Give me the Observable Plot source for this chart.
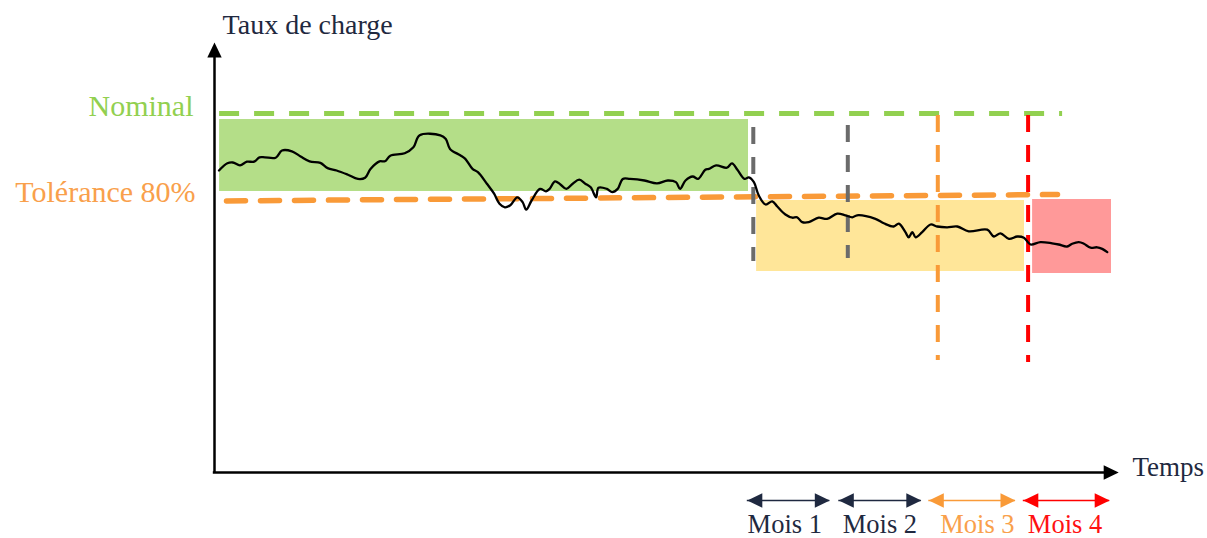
<!DOCTYPE html>
<html>
<head>
<meta charset="utf-8">
<script src="https://cdn.jsdelivr.net/npm/d3@7"></script>
<script src="https://cdn.jsdelivr.net/npm/@observablehq/plot@0.6"></script>
<style>
  html, body { margin: 0; padding: 0; background: #ffffff; }
  #chart svg { display: block; }
  #chart svg text { font-family: "Liberation Serif", "Times New Roman", serif; }
</style>
</head>
<body>
<div id="chart"></div>
<script>
// ---- Data (time in days, load rate in arbitrary % units) ----
const loadSeries = [
  [1.5,75.5],[4.3,77.3],[6.1,77.5],[8.5,76.8],[10.8,77.7],[13.2,77.7],[15.0,78.8],[16.8,78.8],
  [20.4,78.7],[22.5,80.5],[25.8,80.3],[28.7,79.0],[31.7,77.8],[35.3,77.4],[37.7,76.1],[40.7,75.5],
  [44.3,74.5],[47.8,73.4],[50.2,73.7],[52.0,75.9],[55.0,77.8],[56.8,77.8],[58.6,79.2],[63.4,79.8],
  [66.3,81.3],[68.4,84.3],[75.3,84.3],[77.1,83.4],[78.5,80.9],[81.9,79.3],[83.6,78.4],[86.0,75.9],
  [87.8,75.1],[90.8,72.2],[93.2,69.7],[95.0,67.2],[96.8,66.3],[98.6,66.8],[100.9,68.8],[102.7,67.6],
  [103.9,65.7],[105.7,68.0],[108.5,70.9],[110.5,70.3],[111.7,70.9],[113.5,72.8],[115.3,72.0],[117.3,70.9],
  [119.4,72.2],[121.6,73.2],[123.6,72.2],[125.4,71.3],[127.2,68.8],[128.0,71.2],[130.8,70.9],[132.6,70.1],
  [134.4,70.9],[136.1,73.4],[138.5,73.4],[143.3,73.0],[147.5,72.3],[151.1,73.0],[153.8,72.6],[155.2,70.9],
  [157.0,73.0],[159.4,74.0],[161.2,73.4],[163.6,75.7],[164.8,75.9],[167.2,76.8],[170.8,76.2],[172.5,77.3],
  [174.3,75.7],[176.7,73.4],[178.1,73.8],[179.8,72.6],[181.4,69.3],[183.7,67.0],[185.9,67.8],[187.6,66.5],
  [190.3,64.5],[192.6,63.7],[194.2,63.8],[195.9,62.6],[198.1,62.6],[201.4,63.7],[204.2,63.4],[207.6,64.7],
  [210.3,64.3],[212.6,63.8],[214.2,64.3],[220.3,63.4],[223.1,62.3],[226.4,61.5],[228.1,62.2],[230.3,60.1],
  [231.4,58.8],[232.6,60.1],[233.7,58.8],[235.9,60.1],[238.7,62.0],[240.9,61.5],[244.2,61.3],[247.6,61.5],
  [251.4,60.3],[257.6,60.7],[259.8,59.0],[262.0,59.8],[264.8,58.4],[267.6,59.0],[269.8,58.7],[272.0,57.0],
  [275.3,57.6],[279.2,57.3],[281.4,57.0],[284.2,56.5],[285.9,57.2],[288.1,57.6],[289.8,57.2],[292.0,56.2],
  [294.2,56.3],[295.9,55.9],[297.6,55.1]
];

// Operating zones: [name, start, end, low, high]
const zones = [
  ["nominal", 1.7, 178.0, 70.25, 88.25],
  ["tolerance", 180.7, 270.0, 50.25, 68.0],
  ["alert", 272.7, 299.0, 49.75, 68.25]
];

// Reference levels
const nominalLevel = [{start: 1.7, end: 282.7, level: 89.75}];
const toleranceLevel = [[4.0, 67.9], [281.0, 69.5]];

// Monthly checkpoints: [kind, day, top, bottom]
const checkpoints = [
  ["m1", 179.6, 86.25, 52.75],
  ["m2", 211.1, 86.75, 53.5],
  ["m3", 241.1, 89.25, 28.0],
  ["m4", 271.2, 89.25, 27.5]
];

// Month spans
const months = ["Mois 1", "Mois 2", "Mois 3", "Mois 4"];
const monthStart = [177.6, 208.1, 238.1, 269.6];
const monthEnd = [205.1, 235.6, 267.0, 298.4];
const monthLabelAt = [190.1, 221.8, 254.3, 283.5];

// ---- Styles ----
const serif = "'Liberation Serif', 'Times New Roman', serif";
const navy = "#1f2940";
const zoneFill = {nominal: "#b4de88", tolerance: "#ffe699", alert: "#ff9999"};
const checkColor = {m1: "#6b6b6b", m2: "#6b6b6b", m3: "#f99a38", m4: "#ff0000"};
const monthColor = [navy, navy, "#f99a38", "#ff0000"];
const monthTextColor = [navy, navy, "#f9a04b", "#ff1111"];

const zoneData = zones.map(([name, start, end, low, high]) => ({name, start, end, low, high}));
const checkData = checkpoints.map(([kind, day, top, bottom]) => ({kind, day, top, bottom}));
const monthData = months.map((label, i) => ({
  label, start: monthStart[i], end: monthEnd[i], mid: monthLabelAt[i],
  color: monthColor[i], text: monthTextColor[i]
}));

// filled arrowhead: tip at origin, body along +y
const arrowHead = {
  draw(ctx, size) {
    const r = Math.sqrt(size / Math.PI);
    ctx.moveTo(0, 0);
    ctx.lineTo(-0.48 * r, r);
    ctx.lineTo(0.48 * r, r);
    ctx.closePath();
  }
};

const xMax = 302, yMax = 108;
const monthY = -7, monthLabelY = -15;

const chart = Plot.plot({
  width: 1207,
  height: 538,
  marginLeft: 214,
  marginRight: 87,
  marginTop: 40,
  marginBottom: 66,
  x: {domain: [0, xMax], axis: null},
  y: {domain: [0, yMax], axis: null},
  style: {fontFamily: serif, background: "#ffffff"},
  marks: [
    // zones
    Plot.rect(zoneData, {x1: "start", x2: "end", y1: "low", y2: "high", fill: d => zoneFill[d.name]}),
    // nominal level
    Plot.ruleY(nominalLevel, {y: "level", x1: "start", x2: "end", stroke: "#92d050", strokeWidth: 5, strokeDasharray: "20,15"}),
    // tolerance level
    Plot.line(toleranceLevel, {x: d => d[0], y: d => d[1], stroke: "#f99a38", strokeWidth: 5.5, strokeDasharray: "19,15"}),
    // checkpoints
    Plot.ruleX(checkData, {x: "day", y1: "top", y2: "bottom", stroke: d => checkColor[d.kind], strokeWidth: 4, strokeDasharray: "17,13"}),
    // load curve
    Plot.line(loadSeries, {x: d => d[0], y: d => d[1], stroke: "#000000", strokeWidth: 2.3, strokeLinejoin: "round", curve: "catmull-rom"}),
    // axes
    Plot.ruleX([0], {y1: 0, y2: yMax - 4, stroke: "#000000", strokeWidth: 2.5}),
    Plot.ruleY([0], {x1: -0.4, x2: xMax - 5, stroke: "#000000", strokeWidth: 2.5}),
    Plot.dot([[0, yMax - 0.5]], {x: d => d[0], y: d => d[1], symbol: arrowHead, r: 15, fill: "#000000", stroke: "none"}),
    Plot.dot([[xMax - 0.6, 0]], {x: d => d[0], y: d => d[1], symbol: arrowHead, r: 15, fill: "#000000", stroke: "none", rotate: 90}),
    // axis titles
    Plot.text(["Taux de charge"], {x: 2.7, y: 109.75, textAnchor: "start", lineAnchor: "bottom", fontSize: 28, fontFamily: serif, fill: navy}),
    Plot.text(["Temps"], {x: 306, y: -0.75, textAnchor: "start", lineAnchor: "bottom", fontSize: 27, fontFamily: serif, fill: navy}),
    Plot.text(["Nominal"], {x: -7, y: 89.25, textAnchor: "end", lineAnchor: "bottom", fontSize: 30, fontFamily: serif, fill: "#92d050"}),
    Plot.text(["Tolérance 80%"], {x: -6.3, y: 67.75, textAnchor: "end", lineAnchor: "bottom", fontSize: 30, fontFamily: serif, fill: "#f9a04b"}),
    // month spans
    Plot.ruleY(monthData, {y: monthY, x1: "start", x2: "end", stroke: "color", strokeWidth: 1.5}),
    Plot.dot(monthData, {x: "start", y: monthY, symbol: arrowHead, r: 15, fill: "color", stroke: "none", rotate: -90}),
    Plot.dot(monthData, {x: "end", y: monthY, symbol: arrowHead, r: 15, fill: "color", stroke: "none", rotate: 90}),
    Plot.text(monthData, {x: "mid", y: monthLabelY, text: "label", textAnchor: "middle", lineAnchor: "bottom", fontSize: 26.5, fontFamily: serif, fill: "text"})
  ]
});

document.getElementById("chart").appendChild(chart);
</script>
</body>
</html>
